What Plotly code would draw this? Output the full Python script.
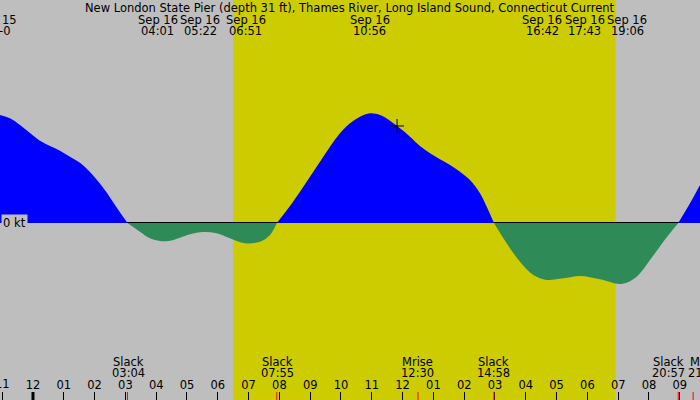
import plotly.graph_objects as go

# current speed (kt) against hours since midnight Sep 16, zeros are the slacks
hours = [-1.071, -0.747, -0.422, -0.097, 0.227, 0.552, 0.877, 1.201, 1.526, 1.786,
         2.078, 2.403, 2.727, 3.067,
         3.474, 3.799, 4.123, 4.448, 4.773, 5.097, 5.53, 5.964, 6.396, 6.883,
         7.37, 7.695, 7.917,
         8.344, 8.669, 8.994, 9.318, 9.643, 9.968, 10.292, 10.617, 10.942, 11.266,
         11.591, 11.916, 12.24, 12.565, 12.89, 13.214, 13.539, 13.864, 14.188,
         14.513, 14.731, 14.967,
         15.38, 15.812, 16.244, 16.679, 17.218, 17.76, 18.409, 19.114, 19.6,
         20.032, 20.464, 20.95,
         21.331, 21.656]
knots = [1.543, 1.496, 1.40, 1.286, 1.176, 1.10, 1.033, 0.947, 0.861, 0.757,
         0.614, 0.429, 0.214, 0.0,
         -0.124, -0.219, -0.257, -0.252, -0.21, -0.162, -0.129, -0.148, -0.219, -0.29,
         -0.267, -0.171, 0.0,
         0.243, 0.447, 0.661, 0.876, 1.09, 1.281, 1.424, 1.519, 1.567, 1.543,
         1.461, 1.353, 1.233, 1.10, 0.996, 0.91, 0.829, 0.733, 0.614,
         0.424, 0.233, 0.0,
         -0.29, -0.553, -0.743, -0.814, -0.79, -0.757, -0.804, -0.871, -0.767,
         -0.53, -0.267, 0.0,
         0.281, 0.543]

now_hour = 11.82
now_knots = 1.386

sunrise = "06:30"
sunset = "18:55"

extreme_dates = ["Sep 16", "Sep 16", "Sep 16", "Sep 16", "Sep 16", "Sep 16", "Sep 16"]
extreme_times = ["04:01", "05:22", "06:51", "10:56", "16:42", "17:43", "19:06"]

event_names = ["Slack", "Slack", "Mrise", "Slack", "Slack", "Mset"]
event_times = ["03:04", "07:55", "12:30", "14:58", "20:57", "21:26"]

tick_hours = list(range(-1, 22))
tick_labels = ["11", "12", "01", "02", "03", "04", "05", "06", "07", "08", "09", "10",
               "11", "12", "01", "02", "03", "04", "05", "06", "07", "08", "09"]

title = "New London State Pier (depth 31 ft), Thames River, Long Island Sound, Connecticut Current"

GREY = "#BEBEBE"
FONT = dict(family="DejaVu Sans", size=11.5, color="black")


def to_hours(t):
    hh, mm = t.split(":")
    return int(hh) + int(mm) / 60


# split the curve into flood / ebb pieces at the slack points
segments = []
cur_x, cur_y = [], []
for h, v in zip(hours, knots):
    cur_x.append(h)
    cur_y.append(v)
    if v == 0 and len(cur_x) > 1:
        segments.append((cur_x, cur_y))
        cur_x, cur_y = [h], [v]
if len(cur_x) > 1:
    segments.append((cur_x, cur_y))

fig = go.Figure()
for xs, ys in segments:
    flood = max(ys) > 0
    color = "#0000FF" if flood else "#2E8B57"
    fig.add_trace(go.Scatter(
        x=xs, y=ys, mode="lines", line=dict(shape="spline", width=0, color=color),
        fill="tozeroy", fillcolor=color, hoverinfo="skip", showlegend=False,
    ))

fig.add_trace(go.Scatter(
    x=[now_hour], y=[now_knots], mode="markers",
    marker=dict(symbol="cross-thin", size=10, line=dict(color="black", width=1)),
    hoverinfo="skip", showlegend=False,
))

# daylight
fig.add_shape(type="rect", xref="x", yref="paper", x0=to_hours(sunrise), x1=to_hours(sunset),
              y0=0, y1=1, fillcolor="#CCCC00", line_width=0, layer="below")

# midnight tick
fig.add_shape(type="line", xref="x", yref="paper", x0=0, x1=0, y0=0, y1=0.02,
              line=dict(color="black", width=3))

annotations = [
    dict(text=title, xref="paper", yref="paper", x=0.5, y=1 - 8 / 400),
    dict(text="15", xref="paper", yref="paper", x=0, xanchor="left", y=1 - 20 / 400),
    dict(text="-0", xref="paper", yref="paper", x=0, xanchor="left", y=1 - 31.5 / 400, xshift=-3),
    dict(text="0 kt", xref="paper", yref="y", x=0, xanchor="left", y=0, xshift=1,
         bgcolor=GREY, borderpad=1),
    # first hour label sits half off the left edge, plotly drops it from the axis
    dict(text=tick_labels[0], xref="x", yref="paper", x=tick_hours[0], y=1 - 384 / 400),
]

top_shift = [1, 2, 2, 0, -5, 6, 6]
for d, t, s in zip(extreme_dates, extreme_times, top_shift):
    annotations.append(dict(text=d, xref="x", yref="paper", x=to_hours(t), y=1 - 20 / 400, xshift=s))
    annotations.append(dict(text=t, xref="x", yref="paper", x=to_hours(t), y=1 - 31.5 / 400, xshift=s))

bottom_shift = [1, 1, 0, 0, -10, 11]
for n, t, s in zip(event_names, event_times, bottom_shift):
    annotations.append(dict(text=n, xref="x", yref="paper", x=to_hours(t), y=1 - 362 / 400, xshift=s))
    annotations.append(dict(text=t, xref="x", yref="paper", x=to_hours(t), y=1 - 373 / 400, xshift=s))
    fig.add_shape(type="line", xref="x", yref="paper", x0=to_hours(t), x1=to_hours(t),
                  y0=0, y1=0.02, line=dict(color="red", width=1))

for a in annotations:
    a.setdefault("showarrow", False)
    a.setdefault("font", FONT)
    a.setdefault("yanchor", "middle")

fig.update_layout(
    width=700, height=400,
    margin=dict(l=0, r=0, t=0, b=0),
    paper_bgcolor=GREY, plot_bgcolor=GREY,
    annotations=annotations,
    showlegend=False,
    xaxis=dict(
        range=[-1.071, 21.656], showgrid=False, zeroline=False,
        tickvals=tick_hours, ticktext=tick_labels,
        ticks="inside", ticklen=8, tickcolor="black", tickwidth=1,
        ticklabelposition="inside", tickfont=FONT, layer="above traces",
        showline=False,
    ),
    yaxis=dict(
        range=[-2.529, 3.186], showgrid=False, showticklabels=False,
        zeroline=True, zerolinecolor="black", zerolinewidth=1,
        layer="above traces",
    ),
)

fig.write_html("out.html", config={"displayModeBar": False},
               post_script="document.body.style.margin='0';")
